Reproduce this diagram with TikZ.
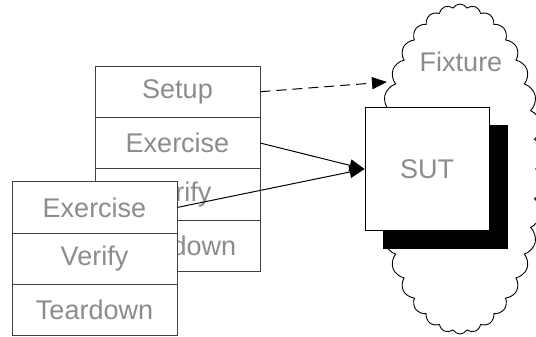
\documentclass[tikz,border=0pt]{standalone}
\usepackage{fontspec}
\setmainfont{Liberation Sans}
\usetikzlibrary{arrows.meta,shapes.symbols,shadows}
\tikzset{
	stepbox/.style={rectangle, draw=black!75, fill=white, line width=0.9pt,
		minimum width=165pt, minimum height=51.4pt, inner sep=0pt,
		text=black!45, font=\fontsize{27}{32}\selectfont},
	tip/.style={-{Triangle[length=15pt,width=12pt]}, line width=1pt, shorten >=0pt},
}
\begin{document}
\begin{tikzpicture}[x=1pt,y=-1pt,draw=black]
	\useasboundingbox (0,0) rectangle (536,337);
	% fixture cloud and SUT
	\node (fixture) at (460,169) [cloud, cloud puffs=34, cloud puff arc=120, draw, line width=0.9pt,
		minimum width=168pt, minimum height=330pt, inner sep=0pt] {};
	\node (fixturelbl) at (461,62) [text=black!45, font=\fontsize{27}{32}\selectfont] {Fixture};
	\node (sut) at (427,169) [rectangle, draw, line width=0.9pt, fill=white,
		minimum width=124pt, minimum height=123pt,
		copy shadow={shadow xshift=18pt, shadow yshift=-18pt, fill=black},
		text=black!45, font=\fontsize{27}{32}\selectfont] {SUT};
	% back test
	\node (setup)    at (177.5, 91.7) [stepbox] {Setup};
	\node (exer)     at (177.5,143.1) [stepbox] {Exercise};
	\node (verify)   at (177.5,194.5) [stepbox] {Verify};
	\node (teardown) at (177.5,245.9) [stepbox] {Teardown};
	% front test
	\node (exer2)     at (94.5,207.4) [stepbox] {Exercise};
	\node (verify2)   at (94.5,258.8) [stepbox] {Verify};
	\node (teardown2) at (94.5,310.2) [stepbox] {Teardown};
	% connectors
	\coordinate (fixturein) at (387,82);
	\draw[tip, dash pattern=on 10pt off 6pt] (setup.east) -- (fixturein);
	\draw[tip] (exer.east) -- (sut.west);
	\draw[tip] (exer2.east) -- (sut.west);
\end{tikzpicture}
\end{document}
